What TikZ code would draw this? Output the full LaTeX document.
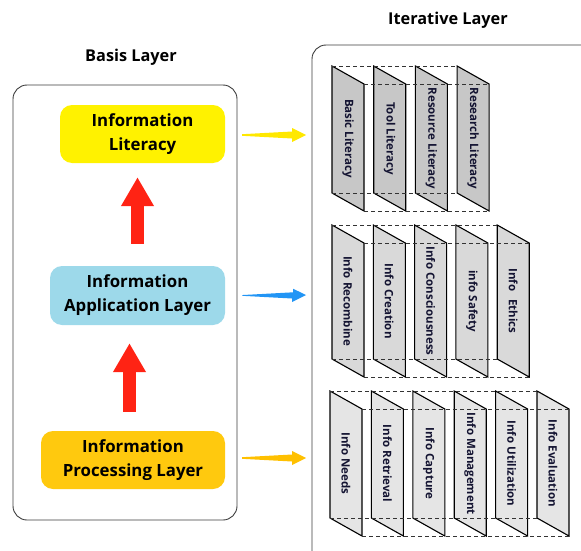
\documentclass[tikz,border=0pt]{standalone}
\usepackage{fontspec}
\setmainfont{Open Sans}
\usetikzlibrary{arrows.meta,calc}
\definecolor{litY}{HTML}{FFF200}
\definecolor{appB}{HTML}{9DD9EA}
\definecolor{procO}{HTML}{FFC90E}
\definecolor{upRed}{HTML}{FF2314}
\definecolor{arY}{HTML}{FFE800}
\definecolor{arB}{HTML}{2295F5}
\definecolor{arO}{HTML}{FFC000}
\definecolor{ptxt}{HTML}{141432}
\definecolor{frameC}{HTML}{3C3C3C}
\tikzset{
  layerbox/.style={rounded corners=12pt, fill=#1, draw=none, align=center,
    font=\bfseries\fontsize{16.8}{24}\selectfont, inner sep=0pt},
  framebox/.style={draw=frameC, line width=0.9pt, rounded corners=14pt},
  titletext/.style={font=\bfseries\fontsize{16.3}{18}\selectfont},
  panelshape/.style={draw=black, line width=1.1pt, line join=miter},
  ptextstyle/.style={rotate=-90, font=\bfseries\fontsize{11.5}{13}\selectfont, text=ptxt, inner sep=0pt},
  dashline/.style={draw=black!80, line width=0.8pt, dash pattern=on 4pt off 3pt},
  bigup/.style={draw=upRed, line width=13pt, -{Triangle[length=29pt,width=31pt]}},
}
\newcommand\mypanels[9]{%
  \foreach \lab [count=\i from 0] in {#9} {
    \pgfmathsetmacro\xl{#2+\i*#4}
    \filldraw[panelshape, fill=#7] (\xl,#3) -- ++(32,#5) -- ++(0,#6) -- ++(-32,-#5) -- cycle;
    \node[ptextstyle] (#1p\i) at (\xl+16,#3+#6/2+#5/2) {\lab};
  }
  \pgfmathsetmacro\xlast{#2+(#8-1)*#4}
  \draw[dashline] (#2,#3) -- (\xlast,#3);
  \draw[dashline] (#2+32,#3+#5) -- (\xlast+32,#3+#5);
  \draw[dashline] (#2,#3+#6) -- (\xlast,#3+#6);
  \draw[dashline] (#2+32,#3+#5+#6) -- (\xlast+32,#3+#5+#6);
}
\begin{document}
\begin{tikzpicture}[x=1pt,y=-1pt]
\useasboundingbox (0,0) rectangle (581,551);
% titles
\node[titletext] (basisT) at (131,57) {Basis Layer};
\node[titletext] (iterT) at (448,20) {Iterative Layer};
% left frame
\draw[framebox] (13,85) rectangle (237,520);
% right frame (clipped)
\begin{scope}
\clip (0,0) rectangle (581,551);
\draw[framebox] (312,45) rectangle (640,575);
\end{scope}
\coordinate (iterL1) at (312,135);
\coordinate (iterL2) at (312,295);
\coordinate (iterL3) at (312,458);
% layer boxes
\node[layerbox=litY, minimum width=165pt, minimum height=58pt] (lit) at (142.5,134) {Information\\Literacy};
\node[layerbox=appB, minimum width=175pt, minimum height=59pt] (app) at (137.5,295.5) {Information\\Application Layer};
\node[layerbox=procO, minimum width=184pt, minimum height=58pt] (proc) at (133,460) {Information\\Processing Layer};
% red up arrows
\draw[bigup, shorten <=22pt, shorten >=14pt] (app.north -| 137.5,0) -- (lit.south -| 137.5,0);
\draw[bigup, shorten <=19pt, shorten >=18pt] (proc.north -| 129.5,0) -- (app.south -| 129.5,0);
% tapered right arrows
\fill[arY] ($(lit.east)+(17,0.2)$) -- ++(50,-2.7) -- ++(0,-3.5) -- ($(iterL1)+(-6,0)$) -- ++(-14,7) -- ++(0,-3.5) -- ++(-50,-2.7) -- cycle;
\fill[arB] ($(app.east)+(18,-0.5)$) -- ++(50,-2.7) -- ++(0,-3.5) -- ($(iterL2)+(-6,0)$) -- ++(-14,7) -- ++(0,-3.5) -- ++(-50,-2.7) -- cycle;
\fill[arO] ($(proc.east)+(17,-2.8)$) -- ++(50,-2.7) -- ++(0,-3.5) -- ($(iterL3)+(-6,0)$) -- ++(-14,7) -- ++(0,-3.5) -- ++(-50,-2.7) -- cycle;
% panel groups
\mypanels{ga}{332}{66}{41.7}{18}{127}{black!22}{4}{Basic Literacy,Tool Literacy,Resource Literacy,Research Literacy}
\mypanels{gb}{332}{225}{41.3}{18}{134}{black!15}{5}{Info Recombine,Info Creation,Info Consciousness,info Safety,Info\hspace{0.7em}Ethics}
\mypanels{gc}{330}{391}{41.4}{18}{127}{black!10}{6}{Info Needs,Info Retrieval,Info Capture,Info Management,Info Utilization,Info Evaluation}
\end{tikzpicture}
\end{document}
